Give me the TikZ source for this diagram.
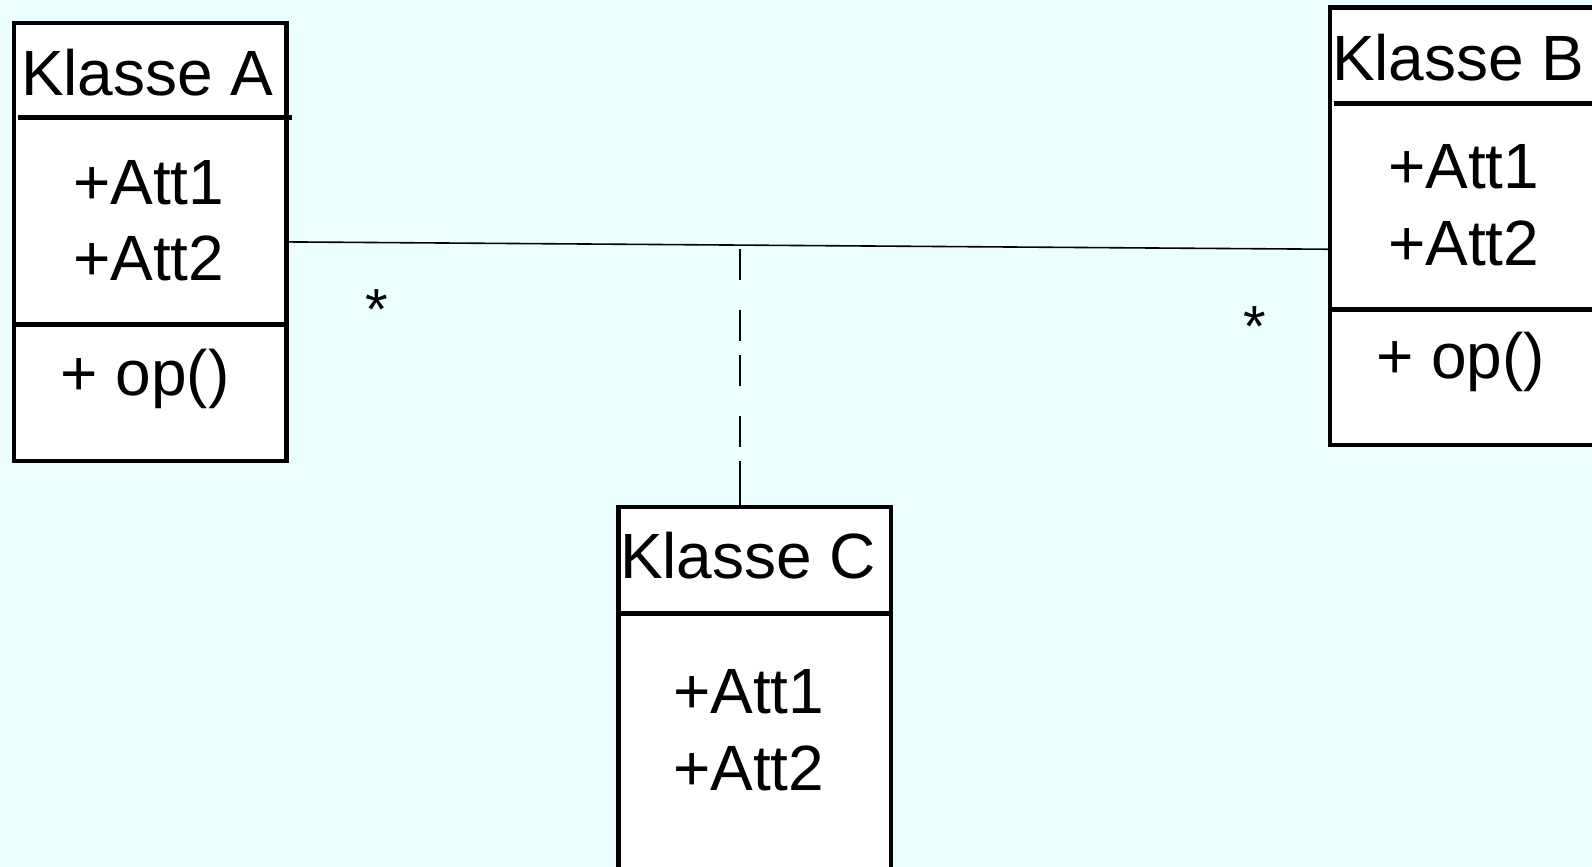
\documentclass[tikz,border=0pt]{standalone}
\usepackage{fontspec}
\setmainfont{Liberation Sans}
\definecolor{bgcyan}{RGB}{235,255,255}
\tikzset{
  classbox/.style={draw=black, fill=white, line width=2.25pt, rectangle, inner sep=0pt, outer sep=0pt},
  divider/.style={line width=2.5pt},
  txt/.style={anchor=base west, inner sep=0pt, outer sep=0pt, font=\fontsize{32}{38}\selectfont},
  mult/.style={anchor=north, inner sep=0pt, outer sep=0pt, font=\fontsize{29}{32}\selectfont},
  assoc/.style={line width=0.8pt},
  assocdash/.style={line width=1pt, dash pattern=on 15.5pt off 15pt on 15.5pt off 7pt on 15.5pt off 15pt on 15.5pt off 7pt on 30pt off 100pt}
}
\begin{document}
\begin{tikzpicture}[x=0.5pt,y=-0.5pt]
\useasboundingbox (0,0) rectangle (1592,867);
\fill[bgcyan] (0,0) rectangle (1592,867);
\clip (0,0) rectangle (1592,867);

% Klasse A
\node[classbox, minimum width=136.35pt, minimum height=219.1pt] (A) at (150.15,241.9) {};
\draw[divider] (18,117.5) -- (292,117.5);
\draw[divider] (14,324.5) -- (286.5,324.5);
\node[txt] (Atitle) at (21,95) {Klasse A};
\node[txt] (Aatt1) at (73,204) {+Att1};
\node[txt] (Aatt2) at (73,280) {+Att2};
\node[txt] (Aop) at (60.5,395) {+ op()};

% Klasse B
\node[classbox, minimum width=155pt, minimum height=218.75pt] (B) at (1485,226.25) {};
\draw[divider] (1333.5,103.5) -- (1640,103.5);
\draw[divider] (1330,309.5) -- (1640,309.5);
\node[txt] (Btitle) at (1332,80) {Klasse B};
\node[txt] (Batt1) at (1388,188) {+Att1};
\node[txt] (Batt2) at (1388,265) {+Att2};
\node[txt] (Bop) at (1376,378) {+ op()};

% Klasse C
\node[classbox, minimum width=136.25pt, minimum height=196.5pt] (C) at (754.75,703.5) {};
\draw[divider] (618.5,613.5) -- (891,613.5);
\node[txt] (Ctitle) at (620,578) {Klasse C};
\node[txt] (Catt1) at (673,713) {+Att1};
\node[txt] (Catt2) at (673,790) {+Att2};

% association
\draw[assoc] (A.east) -- ([yshift=-11.5pt]B.west);
\coordinate (mid) at (740,249);
\draw[assocdash] (mid) -- (mid |- C.north);

% multiplicities
\node[mult] (mA) at (376.5,290) {*};
\node[mult] (mB) at (1255,307) {*};
\end{tikzpicture}
\end{document}
